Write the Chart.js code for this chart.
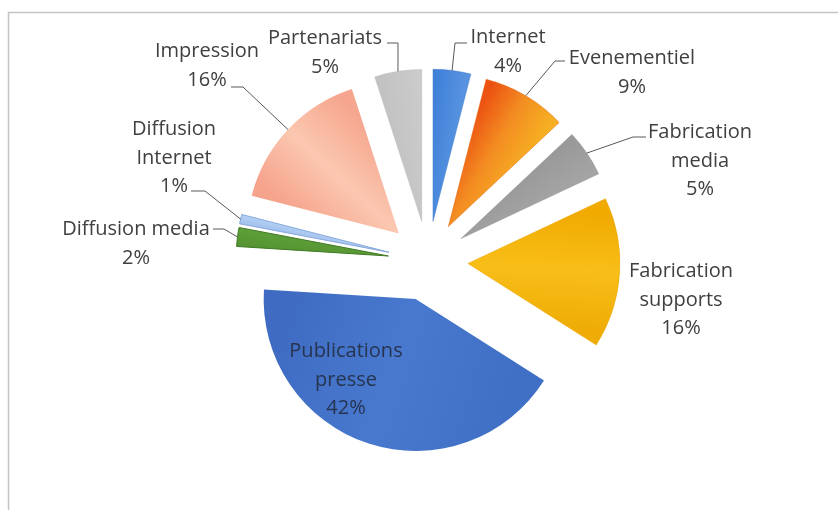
<!DOCTYPE html>
<html>
<head>
<meta charset="utf-8">
<script src="https://cdn.jsdelivr.net/npm/chart.js@4.4.1/dist/chart.umd.min.js"></script>
<style>
  html, body { margin: 0; padding: 0; background: #fff; }
</style>
</head>
<body>
<canvas id="chart" width="838" height="510"></canvas>
<script>
// data, clockwise from 12 o'clock
const categories = ['Internet', 'Evenementiel', 'Fabrication media', 'Fabrication supports',
  'Publications presse', 'Diffusion media', 'Diffusion Internet', 'Impression', 'Partenariats'];
const shares = [4, 9, 5, 16, 42, 2, 1, 16, 5];

// styling
const sliceStops = [
  ['#3f80d8', '#5893e0'],
  ['#ec5312', '#f38d22', '#f6ae22'],
  ['#999999', '#a4a4a4'],
  ['#f0aa00', '#f8be18', '#efac06'],
  ['#4070c6', '#4879cf', '#3f6cc2'],
  ['#559432', '#5e9e38'],
  ['#a2c2ee', '#b3cff3'],
  ['#f6a38c', '#fbc7b0', '#f6a68e'],
  ['#c2c2c2', '#cbcbcb']
];
const sliceBorders = ['#3a78cc', '#e86a14', '#8f8f8f', '#eaa500', '#3a66b8', '#3f7a25', '#86a9dc', '#f3a088', '#bcbcbc'];
const sliceBorderWidths = [0.5, 0.5, 0.5, 0.5, 0, 1, 1, 0, 0.5];
const explode = 40;
const radius = 152;
const labelWrap = [false, false, true, true, true, false, true, false, false];
const labelAt = [[508, 36], [632, 57], [700, 131], [681, 270], [346, 350], [136, 228], [174, 128], [207, 50], [325, 37]];
// elbow x, elbow y, end x
const leaders = [[455, 43, 467], [555, 61, 565], [633, 137, 646], null, null,
  [224, 229, 213], [205, 191, 191], [243, 87, 231], [398, 43, 387]];
const lineGap = 28.5;

function sliceFill(chart, i) {
  const area = chart.chartArea;
  const stops = sliceStops[i];
  if (!area) return stops[0];
  const cx = (area.left + area.right) / 2;
  const cy = (area.top + area.bottom) / 2;
  const total = shares.reduce((a, b) => a + b, 0);
  let before = 0;
  for (let k = 0; k < i; k++) before += shares[k];
  const a0 = -Math.PI / 2 + before / total * Math.PI * 2;
  const a1 = a0 + shares[i] / total * Math.PI * 2;
  const r = radius * 0.8;
  const g = chart.ctx.createLinearGradient(cx + Math.cos(a0) * r, cy + Math.sin(a0) * r,
    cx + Math.cos(a1) * r, cy + Math.sin(a1) * r);
  stops.forEach((c, k) => g.addColorStop(k / (stops.length - 1), c));
  return g;
}

const frame = {
  id: 'frame',
  beforeDraw(chart) {
    const ctx = chart.ctx;
    ctx.save();
    ctx.fillStyle = '#fff';
    ctx.fillRect(0, 0, chart.width, chart.height);
    ctx.strokeStyle = '#c4c4c4';
    ctx.lineWidth = 1.5;
    ctx.beginPath();
    ctx.moveTo(8.5, chart.height);
    ctx.lineTo(8.5, 12.5);
    ctx.lineTo(chart.width, 12.5);
    ctx.stroke();
    ctx.restore();
  }
};

const exploded = {
  id: 'exploded',
  beforeDatasetDraw(chart, args) {
    const ctx = chart.ctx;
    args.meta.data.forEach(arc => {
      const mid = (arc.startAngle + arc.endAngle) / 2;
      ctx.save();
      ctx.translate(Math.cos(mid) * explode, Math.sin(mid) * explode);
      arc.draw(ctx);
      ctx.restore();
    });
    return false;
  }
};

const sliceLabels = {
  id: 'sliceLabels',
  afterDatasetsDraw(chart) {
    const ctx = chart.ctx;
    const meta = chart.getDatasetMeta(0);
    const total = shares.reduce((a, b) => a + b, 0);
    ctx.save();
    meta.data.forEach((arc, i) => {
      const mid = (arc.startAngle + arc.endAngle) / 2;
      const rr = arc.outerRadius + explode;
      const px = arc.x + Math.cos(mid) * rr;
      const py = arc.y + Math.sin(mid) * rr;
      const ld = leaders[i];
      if (ld) {
        ctx.strokeStyle = '#595959';
        ctx.lineWidth = 1;
        ctx.beginPath();
        ctx.moveTo(px, py);
        ctx.lineTo(ld[0], ld[1]);
        ctx.lineTo(ld[2], ld[1]);
        ctx.stroke();
      }
      const name = categories[i];
      const lines = labelWrap[i] ? name.split(' ') : [name];
      lines.push(Math.round(shares[i] / total * 100) + '%');
      ctx.font = '20px "Open Sans"';
      ctx.textAlign = 'center';
      ctx.textBaseline = 'alphabetic';
      ctx.fillStyle = i === 4 ? '#27344f' : '#404040';
      lines.forEach((t, k) => {
        ctx.fillText(t, labelAt[i][0], labelAt[i][1] + 7 + k * lineGap);
      });
    });
    ctx.restore();
  }
};

new Chart(document.getElementById('chart'), {
  type: 'pie',
  data: {
    labels: categories,
    datasets: [{
      data: shares,
      backgroundColor: c => sliceFill(c.chart, c.dataIndex),
      borderColor: sliceBorders,
      borderWidth: sliceBorderWidths
    }]
  },
  options: {
    responsive: false,
    devicePixelRatio: 1,
    animation: false,
    radius: radius,
    layout: { padding: { left: 18, right: 0, top: 12, bottom: 0 } },
    plugins: {
      legend: { display: false },
      tooltip: { enabled: false }
    }
  },
  plugins: [frame, exploded, sliceLabels]
});
</script>
</body>
</html>
